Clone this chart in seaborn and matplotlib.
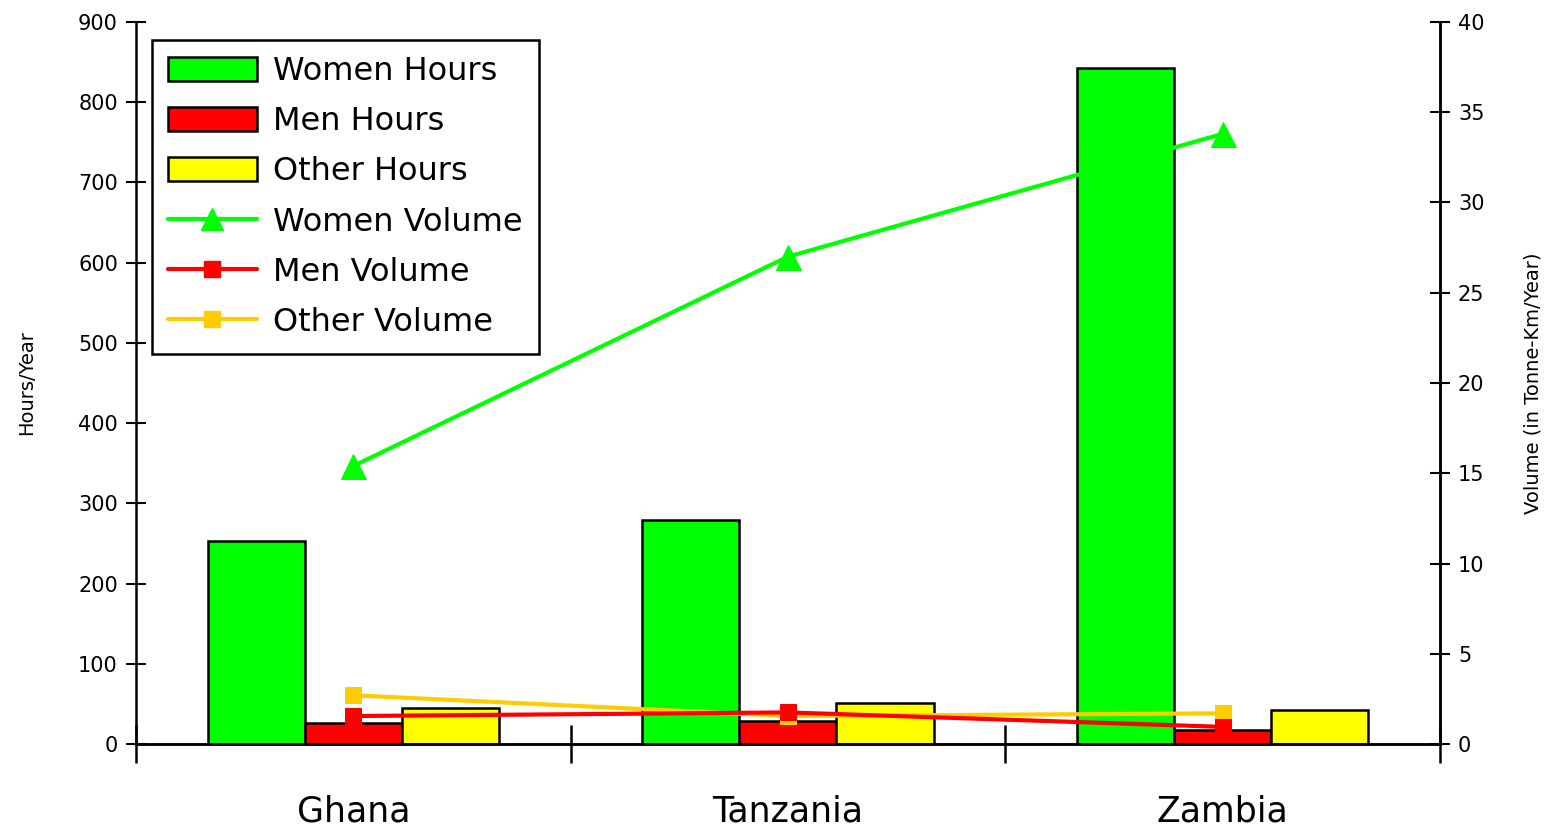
import matplotlib
matplotlib.use("Agg")
import matplotlib.pyplot as plt
import seaborn as sns
import pandas as pd
import numpy as np
from matplotlib.lines import Line2D
from matplotlib.patches import Patch

countries = ["Ghana", "Tanzania", "Zambia"]
women_hours = [253, 279, 843]
men_hours = [26, 29, 17]
other_hours = [45, 51, 42]
women_volume = [15.4, 27.0, 33.8]
men_volume = [1.55, 1.75, 0.95]
other_volume = [2.7, 1.55, 1.7]

sns.set_theme(style="white")
plt.rcParams['font.family'] = ['DejaVu Sans']
plt.rcParams['text.color'] = 'black'
plt.rcParams['axes.labelcolor'] = 'black'
plt.rcParams['xtick.color'] = 'black'
plt.rcParams['ytick.color'] = 'black'

bars = pd.DataFrame({
    "Country": countries * 3,
    "Hours": women_hours + men_hours + other_hours,
    "Series": ["Women Hours"] * 3 + ["Men Hours"] * 3 + ["Other Hours"] * 3,
})
bar_colors = {"Women Hours": "#00ff00", "Men Hours": "#ff0000", "Other Hours": "#ffff00"}

fig = plt.figure(figsize=(15.54, 8.30), dpi=100)
ax = fig.add_axes([0.0875, 0.1036, 0.8391, 0.8699])

sns.barplot(data=bars, x="Country", y="Hours", hue="Series", order=countries,
            hue_order=["Women Hours", "Men Hours", "Other Hours"],
            palette=bar_colors, width=0.67, edgecolor="black", linewidth=1.8,
            saturation=1, ax=ax, legend=False)

ax.set_xlim(-0.5, 2.5)
ax.set_ylim(0, 900)
ax.set_yticks(np.arange(0, 901, 100))
ax.set_ylabel("Hours/Year", fontsize=14, labelpad=30)
ax.set_xlabel("")

ax2 = ax.twinx()
lines = pd.DataFrame({
    "x": [0, 1, 2] * 3,
    "Volume": women_volume + men_volume + other_volume,
    "Series": ["Women Volume"] * 3 + ["Men Volume"] * 3 + ["Other Volume"] * 3,
})
line_styles = {
    "Women Volume": ("#00ff00", "^", 18),
    "Men Volume": ("#ff0000", "s", 12),
    "Other Volume": ("#ffcc00", "s", 12),
}
for name in ["Other Volume", "Men Volume", "Women Volume"]:
    col, mk, ms = line_styles[name]
    sub = lines[lines["Series"] == name]
    sns.lineplot(data=sub, x="x", y="Volume", color=col, marker=mk, markersize=ms,
                 markeredgecolor=col, linewidth=3, ax=ax2, legend=False)
ax2.set_ylim(0, 40)
ax2.set_yticks(np.arange(0, 41, 5))
ax2.set_ylabel("Volume (in Tonne-Km/Year)", fontsize=14, labelpad=28)
ax2.set_xlim(-0.5, 2.5)

for a in (ax, ax2):
    a.spines["top"].set_visible(False)
    for s in ["left", "right", "bottom"]:
        a.spines[s].set_color("black")
        a.spines[s].set_linewidth(1.8)
ax2.spines["left"].set_visible(False)

ax.tick_params(axis="y", direction="inout", length=14, width=1.5, labelsize=15, pad=6, left=True)
ax2.tick_params(axis="y", direction="inout", length=14, width=1.5, labelsize=15, pad=6, right=True)

ax.set_xticks([-0.5, 0.5, 1.5, 2.5])
ax.set_xticklabels([])
ax.tick_params(axis="x", which="major", direction="inout", length=28, width=1.8, bottom=True)
ax.set_xticks([0, 1, 2], minor=True)
ax.set_xticklabels(countries, minor=True, fontsize=25)
ax.tick_params(axis="x", which="minor", length=0, pad=36)

handles = [
    Patch(facecolor="#00ff00", edgecolor="black", linewidth=1.8, label="Women Hours"),
    Patch(facecolor="#ff0000", edgecolor="black", linewidth=1.8, label="Men Hours"),
    Patch(facecolor="#ffff00", edgecolor="black", linewidth=1.8, label="Other Hours"),
    Line2D([], [], color="#00ff00", marker="^", markersize=16, linewidth=3, label="Women Volume"),
    Line2D([], [], color="#ff0000", marker="s", markersize=11, linewidth=3, label="Men Volume"),
    Line2D([], [], color="#ffcc00", marker="s", markersize=11, linewidth=3, label="Other Volume"),
]
leg = ax2.legend(handles=handles, loc="upper left", bbox_to_anchor=(0.012, 0.975),
                 fontsize=23, frameon=True, fancybox=False, edgecolor="black", framealpha=1,
                 handlelength=2.8, handleheight=0.8, labelspacing=0.6, borderpad=0.5,
                 handletextpad=0.5, borderaxespad=0.0)
leg.get_frame().set_linewidth(1.8)
for t in leg.get_texts():
    t.set_color("black")

fig.savefig("out.png", dpi=100)
